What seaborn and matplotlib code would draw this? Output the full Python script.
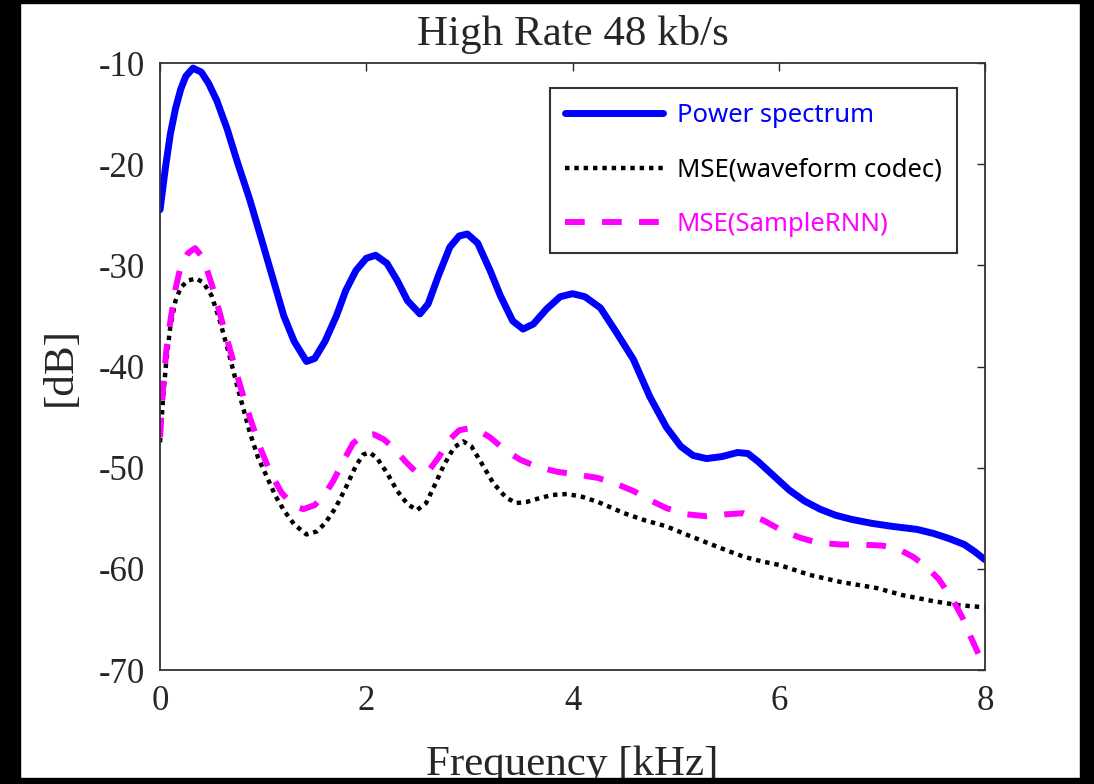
import matplotlib
matplotlib.use("Agg")
import matplotlib.pyplot as plt
import seaborn as sns
from matplotlib.patches import Rectangle

# frequency [kHz] / level [dB]
power_f = [0, 0.05, 0.1, 0.15, 0.2, 0.25, 0.32, 0.4, 0.47, 0.55, 0.65, 0.75,
           0.87, 1.0, 1.1, 1.2, 1.3, 1.42, 1.5, 1.6, 1.71, 1.8, 1.9, 2.0, 2.09,
           2.2, 2.3, 2.4, 2.52, 2.6, 2.7, 2.81, 2.9, 2.98, 3.08, 3.2, 3.3, 3.42,
           3.52, 3.62, 3.75, 3.88, 4.0, 4.12, 4.27, 4.43, 4.59, 4.75, 4.91,
           5.05, 5.17, 5.3, 5.45, 5.6, 5.7, 5.8, 5.95, 6.1, 6.25, 6.4, 6.55,
           6.7, 6.9, 7.1, 7.34, 7.5, 7.65, 7.8, 7.9, 8.0]
power_db = [-24.5, -20.5, -17, -14.5, -12.6, -11.3, -10.5, -10.9, -12, -13.7,
            -16.5, -19.8, -23.5, -28, -31.5, -35, -37.5, -39.5, -39.2, -37.5,
            -35, -32.5, -30.5, -29.3, -29, -29.8, -31.5, -33.5, -34.8, -33.8,
            -31, -28.2, -27.1, -26.9, -27.8, -30.5, -33, -35.5, -36.3, -35.8,
            -34.3, -33.1, -32.8, -33.1, -34.2, -36.7, -39.3, -43, -46, -47.9,
            -48.8, -49.1, -48.9, -48.5, -48.6, -49.4, -50.8, -52.2, -53.3,
            -54.1, -54.7, -55.1, -55.5, -55.8, -56.1, -56.5, -57, -57.6,
            -58.3, -59.1]

codec_f = [0, 0.03, 0.06, 0.1, 0.15, 0.2, 0.27, 0.35, 0.42, 0.5, 0.58, 0.67,
           0.75, 0.87, 0.95, 1.04, 1.12, 1.2, 1.3, 1.42, 1.52, 1.6, 1.7, 1.8,
           1.9, 1.97, 2.03, 2.1, 2.2, 2.3, 2.4, 2.49, 2.58, 2.66, 2.75, 2.85,
           2.94, 3.02, 3.12, 3.23, 3.35, 3.45, 3.55, 3.65, 3.8, 3.95, 4.1,
           4.25, 4.5, 4.7, 4.91, 5.1, 5.3, 5.5, 5.66, 5.85, 6.0, 6.3, 6.6,
           6.95, 7.2, 7.5, 7.75, 8.0]
codec_db = [-47.5, -43, -39.5, -36, -33.5, -32.2, -31.5, -31.3, -31.7, -33,
            -35.5, -38.8, -42, -46.5, -49, -51, -52.8, -54.2, -55.6, -56.6,
            -56.3, -55.5, -54, -52, -49.8, -48.7, -48.5, -49, -50.5, -52.3,
            -53.6, -54.2, -53.5, -51.8, -49.8, -48, -47.4, -47.9, -49.6, -51.5,
            -52.9, -53.5, -53.4, -53.1, -52.7, -52.6, -52.9, -53.4, -54.5,
            -55.2, -55.8, -56.6, -57.4, -58.2, -58.8, -59.3, -59.6, -60.6,
            -61.3, -61.9, -62.6, -63.2, -63.6, -63.8]

rnn_f = [0, 0.03, 0.06, 0.1, 0.15, 0.2, 0.27, 0.34, 0.42, 0.52, 0.6, 0.68,
         0.78, 0.87, 0.97, 1.07, 1.18, 1.3, 1.39, 1.5, 1.6, 1.68, 1.78, 1.87,
         1.97, 2.07, 2.17, 2.27, 2.38, 2.48, 2.55, 2.62, 2.7, 2.8, 2.9, 3.0,
         3.1, 3.2, 3.35, 3.49, 3.65, 3.85, 4.05, 4.24, 4.4, 4.59, 4.75, 4.91,
         5.1, 5.3, 5.5, 5.66, 5.85, 6.01, 6.2, 6.37, 6.6, 6.79, 7.0, 7.15,
         7.3, 7.42, 7.55, 7.69, 7.78, 7.86, 7.94, 8.0]
rnn_db = [-47, -42, -38.5, -35.5, -32.3, -30.1, -28.8, -28.3, -29.3, -32.5,
          -35.5, -38.4, -42, -45, -48, -50.5, -52.5, -53.8, -54.1, -53.7,
          -52.6, -51.3, -49.3, -47.6, -46.8, -46.7, -47.2, -48.1, -49.4,
          -50.4, -50.5, -50.1, -49, -47.3, -46.3, -46.1, -46.4, -47, -48.3,
          -49.2, -49.9, -50.4, -50.7, -51, -51.5, -52.3, -53.2, -54, -54.6,
          -54.8, -54.6, -54.5, -55.2, -56.1, -56.9, -57.4, -57.6, -57.6,
          -57.7, -58, -58.8, -59.7, -61, -63.1, -64.8, -66.7, -68.5, -69.8]

sns.set_style("white")
plt.rcParams['font.family'] = ['Liberation Serif', 'DejaVu Serif']
plt.rcParams['axes.unicode_minus'] = False

fig = plt.figure(figsize=(10.94, 7.84), dpi=100)
ax = fig.add_axes([0.1463, 0.1454, 0.7541, 0.7742])

sns.lineplot(x=power_f, y=power_db, ax=ax, color='#0000ff', linewidth=5,
             solid_joinstyle='round', label='Power spectrum')
sns.lineplot(x=codec_f, y=codec_db, ax=ax, color='black', linewidth=3.2,
             linestyle=(0, (1, 1.1)), label='MSE(waveform codec)')
sns.lineplot(x=rnn_f, y=rnn_db, ax=ax, color='#ff00ff', linewidth=4.3,
             linestyle=(0, (3.3, 2.9)), label='MSE(SampleRNN)')

ax.set_xlim(0, 8)
ax.set_ylim(-70, -10)
ax.set_xticks([0, 2, 4, 6, 8])
ax.set_yticks([-70, -60, -50, -40, -30, -20, -10])
ax.tick_params(direction='in', length=6, width=1, top=True, right=True,
               labelsize=25, pad=11, colors='#262626')
for s in ax.spines.values():
    s.set_color('#333333')
    s.set_linewidth(1.3)

ax.set_title('High Rate 48 kb/s', fontsize=31, pad=13)
ax.set_xlabel('Frequency [kHz]', fontsize=31)
ax.set_ylabel('[dB]', fontsize=31)
ax.xaxis.set_label_coords(0.5, -0.125)
ax.yaxis.set_label_coords(-0.097, 0.5)

leg = ax.legend(loc='upper right', bbox_to_anchor=(0.966, 0.959),
                borderaxespad=0, fancybox=False, framealpha=1,
                edgecolor='#333333', labelcolor='linecolor',
                prop={'family': 'Noto Sans', 'size': 18.5},
                handlelength=3.8, handletextpad=0.55, labelspacing=1.15,
                borderpad=0.6)
leg.get_frame().set_linewidth(1.5)

# black frame round the picture
W, H = 1094, 784
for x0, y0, w, h in [(0, 0, 20, H), (1080, 0, 14, H), (0, 0, W, 6), (0, 781, W, 3)]:
    fig.patches.append(Rectangle((x0 / W, y0 / H), w / W, h / H, color='black',
                                 transform=fig.transFigure, zorder=10))

fig.savefig('out.png', dpi=100)
